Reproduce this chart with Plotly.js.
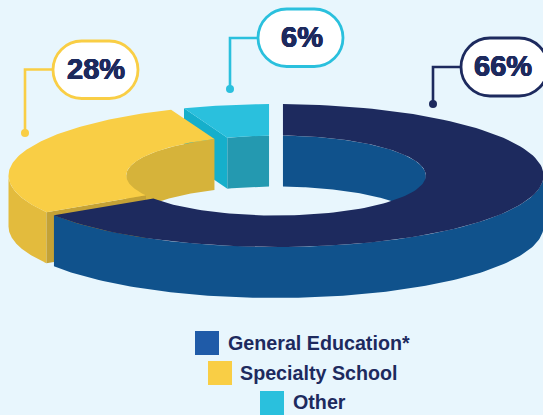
<!DOCTYPE html>
<html>
<head>
<meta charset="utf-8">
<script src="https://cdn.plot.ly/plotly-3.0.1.min.js"></script>
<style>html,body{margin:0;padding:0;background:#e8f6fd;overflow:hidden}#chart{width:543px;height:415px}</style>
</head>
<body>
<div id="chart"></div>
<script>
// Enrollment shares by school type
const categories = ['General Education*', 'Specialty School', 'Other'];
const shares = [66, 28, 6];

// Ring geometry in page pixels
const CX = 276, CY = 175.5, RX = 267.5, RY = 71.5, HOLE = 0.56, DEPTH = 51, GAP = 0.052;

const palette = {
  navyTop: '#1d2a5e', navyWall: '#10528c',
  yellowTop: '#f9ce45', yellowOuter: '#e3bb3d', yellowInner: '#d6b33a', yellowCut: '#c4a236',
  cyanTop: '#2ac0dd', cyanCut: '#15afcb', cyanWall: '#2499b0',
  swatchBlue: '#1f5ba8', ink: '#1d2a5e', page: '#e8f6fd'
};

// A point on the ring; deg runs clockwise from the top, r is the fraction of the outer radius
function pt(deg, r, drop) {
  const a = deg * Math.PI / 180;
  return [CX + RX * r * Math.sin(a), CY - RY * r * Math.cos(a) + (drop || 0)];
}
function arc(from, to, r, drop) {
  const out = [], n = 120;
  for (let i = 0; i <= n; i++) out.push(pt(from + (to - from) * i / n, r, drop));
  return out;
}
function poly(points, color) {
  const closed = points.concat([points[0]]);
  return {
    x: closed.map(p => p[0]), y: closed.map(p => p[1]),
    mode: 'lines', fill: 'toself', fillcolor: color,
    line: {width: 0, color: color}, hoverinfo: 'skip', showlegend: false
  };
}

// Slice boundaries from the shares, with the parallel gap narrowing each arc
const edges = [0];
shares.forEach((s, i) => edges.push(edges[i] + s * 3.6));
const trimOuter = Math.asin(GAP / 2) * 180 / Math.PI;
const trimInner = Math.asin(GAP / 2 / HOLE) * 180 / Math.PI;
const span = i => ({o0: edges[i] + trimOuter, o1: edges[i + 1] - trimOuter, i0: edges[i] + trimInner, i1: edges[i + 1] - trimInner});

const topFace = (s, color) => poly(arc(s.o0, s.o1, 1).concat(arc(s.i1, s.i0, HOLE)), color);
const wall = (from, to, r, color) => poly(arc(from, to, r).concat(arc(to, from, r, DEPTH)), color);
const cut = (oDeg, iDeg, color) => poly([pt(oDeg, 1), pt(iDeg, HOLE), pt(iDeg, HOLE, DEPTH), pt(oDeg, 1, DEPTH)], color);

const navy = span(0), yellow = span(1), cyan = span(2);

// Painted back to front
const traces = [
  cut(cyan.o0, cyan.i0, palette.cyanCut),
  wall(cyan.i0, cyan.i1, HOLE, palette.cyanWall),
  topFace(cyan, palette.cyanTop),
  wall(navy.i0, 90, HOLE, palette.navyWall),
  wall(270, yellow.i1, HOLE, palette.yellowInner),
  wall(yellow.o0, 270, 1, palette.yellowOuter),
  cut(yellow.o0, yellow.i0, palette.yellowCut),
  topFace(yellow, palette.yellowTop),
  wall(90, navy.o1, 1, palette.navyWall),
  topFace(navy, palette.navyTop)
];

// Legend rows: swatch centre and text start
const legendRows = [
  {swatchX: 207, y: 343, textX: 226, color: palette.swatchBlue},
  {swatchX: 220, y: 373, textX: 238, color: palette.yellowTop},
  {swatchX: 272, y: 402, textX: 291, color: palette.cyanTop}
];
legendRows.forEach(row => traces.push({
  x: [row.swatchX], y: [row.y + (row === legendRows[2] ? 1 : 0)], mode: 'markers',
  marker: {symbol: 'square', size: 24, color: row.color, line: {width: 0}},
  hoverinfo: 'skip', showlegend: false
}));

const annotations = legendRows.map((row, i) => ({
  x: row.textX, y: row.y, xref: 'x', yref: 'y', xanchor: 'left', yanchor: 'middle',
  text: '<b>' + categories[i] + '</b>', showarrow: false,
  font: {family: 'Liberation Sans, Arial, sans-serif', size: 19.7, color: palette.ink}
}));

// Callout pills with their leader lines
const callouts = [
  {share: 0, x0: 461, x1: 548, y0: 38, y1: 96, color: palette.navyTop, tx: 503, lead: 'M461 67H433V104', dot: [433, 104]},
  {share: 1, x0: 53, x1: 138, y0: 41, y1: 98.5, color: palette.yellowTop, tx: 96, lead: 'M53 69.5H25V133', dot: [25, 133]},
  {share: 2, x0: 258, x1: 343, y0: 9, y1: 66.5, color: palette.cyanTop, tx: 302, lead: 'M258 38H230V89', dot: [230, 89]}
];

// Rounded-end outline built from cubic segments
function pillPath(c) {
  const r = (c.y1 - c.y0) / 2, k = r * 0.5523;
  const l = c.x0 + r, h = c.x1 - r, m = (c.y0 + c.y1) / 2;
  return `M${l} ${c.y0}L${h} ${c.y0}` +
    `C${h + k} ${c.y0} ${c.x1} ${m - k} ${c.x1} ${m}C${c.x1} ${m + k} ${h + k} ${c.y1} ${h} ${c.y1}` +
    `L${l} ${c.y1}` +
    `C${l - k} ${c.y1} ${c.x0} ${m + k} ${c.x0} ${m}C${c.x0} ${m - k} ${l - k} ${c.y0} ${l} ${c.y0}Z`;
}

const shapes = [];
callouts.forEach(c => {
  shapes.push({type: 'path', xref: 'x', yref: 'y', path: c.lead, line: {color: c.color, width: 2.6}, layer: 'above'});
  shapes.push({type: 'circle', xref: 'x', yref: 'y', x0: c.dot[0] - 4, x1: c.dot[0] + 4, y0: c.dot[1] - 4, y1: c.dot[1] + 4,
    fillcolor: c.color, line: {width: 0}, layer: 'above'});
  shapes.push({type: 'path', xref: 'x', yref: 'y', layer: 'above', fillcolor: '#ffffff', line: {color: c.color, width: 2.8},
    path: pillPath(c)});
  annotations.push({
    x: c.tx, y: (c.y0 + c.y1) / 2 - 1, xref: 'x', yref: 'y', xanchor: 'center', yanchor: 'middle',
    text: '<b>' + shares[c.share] + '%</b>', showarrow: false,
    font: {family: 'Liberation Sans, Arial, sans-serif', size: 29, color: palette.ink,
      shadow: '0.5px 0 0 #1d2a5e, -0.5px 0 0 #1d2a5e, 0 0.4px 0 #1d2a5e, 0 -0.4px 0 #1d2a5e'}
  });
});

const hidden = {visible: false, fixedrange: true};
Plotly.newPlot('chart', traces, {
  width: 543, height: 415,
  margin: {l: 0, r: 0, t: 0, b: 0},
  paper_bgcolor: palette.page, plot_bgcolor: palette.page,
  xaxis: Object.assign({range: [0, 543]}, hidden),
  yaxis: Object.assign({range: [415, 0]}, hidden),
  shapes: shapes, annotations: annotations, showlegend: false
}, {displayModeBar: false, staticPlot: true});
</script>
</body>
</html>
